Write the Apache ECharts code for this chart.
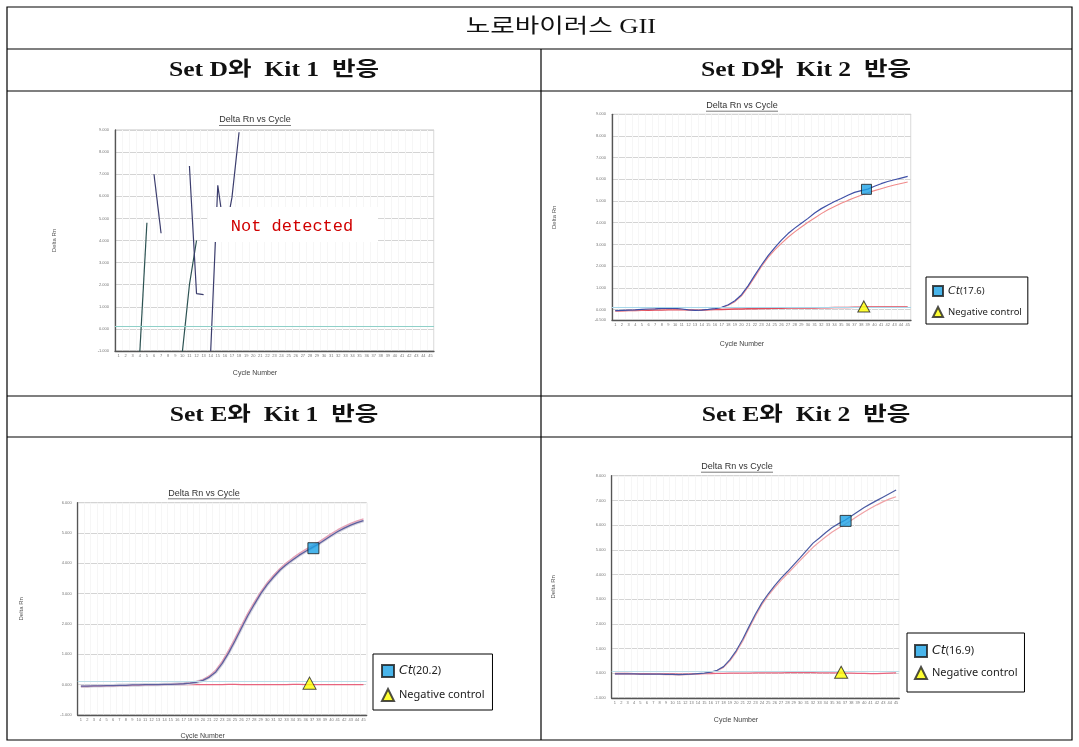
<!DOCTYPE html>
<html><head><meta charset="utf-8">
<script src="https://cdn.jsdelivr.net/npm/echarts@6/dist/echarts.min.js"></script>
<style>html,body{margin:0;padding:0;background:#fff}#c{width:1079px;height:747px}</style>
</head><body><div id="c"></div>
<script>
// ---------- data ----------
const cycles = ['1','2','3','4','5','6','7','8','9','10','11','12','13','14','15','16','17','18','19','20','21','22','23','24','25','26','27','28','29','30','31','32','33','34','35','36','37','38','39','40','41','42','43','44','45'];

const tableTitle = '노로바이러스 GII';
const panelHeaders = ['Set D와  Kit 1  반응', 'Set D와  Kit 2  반응', 'Set E와  Kit 1  반응', 'Set E와  Kit 2  반응'];
const plotTitle = 'Delta Rn vs Cycle';
const xName = 'Cycle Number';
const yName = 'Delta Rn';
const notDetected = 'Not detected';

// Panel 1 (Set D / Kit 1): broken noise segments [cycle, Delta Rn]
const p1SegA = [['4', -1.05], ['5', 4.8]];
const p1SegB = [['6', 7.0], ['7', 4.33]];
const p1SegC = [['10', -1.05], ['11', 2.0], ['12', 4.0]];
const p1SegD = [['11', 7.37], ['12', 1.6], ['13', 1.55]];
const p1SegE = [['14', -1.0], ['15', 6.5], ['16', 4.2], ['17', 5.95], ['18', 8.9]];
const p1Threshold = 0.1;

// Panel 2 (Set D / Kit 2)
const p2Blue = [-0.05,-0.04,-0.03,-0.02,0.0,0.02,0.03,0.05,0.06,0.05,0.02,-0.02,-0.04,-0.03,0.0,0.04,0.1,0.22,0.4,0.68,1.1,1.58,2.05,2.48,2.85,3.2,3.5,3.75,3.98,4.2,4.45,4.65,4.82,4.98,5.12,5.27,5.4,5.48,5.55,5.68,5.8,5.9,5.98,6.06,6.14];
const p2Pink = [-0.07,-0.06,-0.05,-0.04,-0.02,0.0,0.02,0.03,0.04,0.03,0.01,-0.03,-0.05,-0.04,-0.01,0.03,0.08,0.19,0.36,0.63,1.04,1.5,1.98,2.4,2.75,3.05,3.33,3.58,3.8,4.02,4.22,4.42,4.6,4.75,4.9,5.03,5.15,5.27,5.38,5.48,5.57,5.66,5.74,5.81,5.88];
const p2Neg = [-0.06,-0.06,-0.05,-0.05,-0.04,-0.04,-0.03,-0.03,-0.02,-0.02,-0.02,-0.02,-0.03,-0.03,-0.02,-0.01,0.0,0.01,0.02,0.02,0.03,0.03,0.04,0.04,0.05,0.05,0.06,0.06,0.07,0.07,0.07,0.08,0.08,0.09,0.09,0.09,0.1,0.1,0.11,0.11,0.11,0.12,0.12,0.12,0.12];
const p2CtPoint = [38.8, 5.54];
const p2NegPoint = [38.4, 0.14];
const p2CtLabel = 'Ct(17.6)';
const p2YTicks = [-0.5,0,1,2,3,4,5,6,7,8,9];
const p2Threshold = 0.08;

// Panel 3 (Set E / Kit 1)
const p3Blue = [-0.05,-0.05,-0.04,-0.04,-0.03,-0.03,-0.02,-0.02,-0.01,-0.01,0.0,0.0,0.0,0.01,0.01,0.02,0.03,0.05,0.08,0.14,0.25,0.42,0.7,1.05,1.45,1.87,2.28,2.65,3.0,3.3,3.55,3.78,3.96,4.12,4.27,4.4,4.52,4.64,4.78,4.92,5.05,5.16,5.26,5.34,5.41];
const p3Pink = [-0.06,-0.06,-0.05,-0.05,-0.04,-0.04,-0.03,-0.03,-0.02,-0.02,-0.01,-0.01,0.0,0.0,0.01,0.02,0.03,0.06,0.1,0.17,0.29,0.48,0.77,1.13,1.53,1.95,2.36,2.72,3.06,3.36,3.61,3.83,4.02,4.18,4.33,4.46,4.58,4.7,4.84,4.98,5.11,5.22,5.32,5.4,5.47];
const p3Neg = [-0.04,-0.04,-0.04,-0.03,-0.03,-0.03,-0.02,-0.02,-0.02,-0.01,-0.01,-0.01,0.0,0.0,0.0,0.0,0.0,0.0,0.0,0.0,0.0,0.0,0.0,0.01,0.01,0.0,0.0,0.0,0.0,0.0,0.0,0.0,0.0,0.01,0.01,0.0,0.0,0.0,0.0,0.0,0.0,0.0,0.0,0.0,0.0];
const p3CtPoint = [37.2, 4.5];
const p3NegPoint = [36.6, 0.05];
const p3CtLabel = 'Ct(20.2)';
const p3Threshold = 0.12;

// Panel 4 (Set E / Kit 2)
const p4Blue = [-0.02,-0.02,-0.02,-0.02,-0.03,-0.03,-0.03,-0.03,-0.04,-0.04,-0.05,-0.04,-0.03,-0.01,0.01,0.05,0.12,0.27,0.55,0.92,1.38,1.9,2.4,2.85,3.22,3.55,3.85,4.12,4.4,4.68,4.98,5.27,5.48,5.7,5.9,6.06,6.2,6.37,6.54,6.71,6.86,7.0,7.14,7.28,7.42];
const p4Pink = [-0.03,-0.03,-0.03,-0.03,-0.04,-0.04,-0.04,-0.04,-0.05,-0.05,-0.06,-0.05,-0.04,-0.02,0.0,0.03,0.1,0.24,0.5,0.86,1.3,1.82,2.32,2.78,3.15,3.47,3.76,4.03,4.3,4.57,4.84,5.1,5.32,5.53,5.72,5.88,6.03,6.2,6.37,6.53,6.68,6.82,6.95,7.06,7.15];
const p4Neg = [0.0,0.0,0.0,-0.01,-0.01,-0.01,-0.02,-0.02,-0.02,-0.02,-0.03,-0.03,-0.02,-0.02,-0.01,-0.01,0.0,0.0,0.01,0.01,0.01,0.01,0.02,0.02,0.02,0.02,0.02,0.03,0.03,0.03,0.03,0.03,0.02,0.02,0.02,0.02,0.01,0.01,0.0,0.0,-0.01,-0.01,0.0,0.01,0.02];
const p4CtPoint = [37.1, 6.17];
const p4NegPoint = [36.4, 0.04];
const p4CtLabel = 'Ct(16.9)';
const p4Threshold = 0.1;

const negLabel = 'Negative control';

// ---------- layout ----------
const grids = [
  {left:115, top:130, width:319, height:221},
  {left:612, top:114.3, width:299, height:206},
  {left:77.7, top:502.7, width:289, height:212.3},
  {left:611.7, top:475.7, width:287.6, height:222.3}
];
const yRanges = [[-1,9],[-0.5,9],[-1,6],[-1,8]];
const nameGapsY = [58, 55, 53, 55];
const nameGapsX = [19, 20, 18, 19];

const labelFont = 'Liberation Sans, Arial, sans-serif';

const xAxes = [], yAxes = [];
grids.forEach((g, i) => {
  xAxes.push({
    type:'category', gridIndex:i, data:cycles, boundaryGap:true,
    name:xName, nameLocation:'middle', nameGap:nameGapsX[i],
    nameTextStyle:{fontSize:7, color:'#444', fontFamily:labelFont, padding:[0,39,0,0]},
    axisLine:{show:true, onZero:false, lineStyle:{color:'#555', width:1.3}},
    axisTick:{show:false},
    axisLabel:{interval:0, fontSize:4, color:'#777', margin:3, fontFamily:labelFont},
    splitLine:{show:true, interval:0, lineStyle:{color:'#f6f6f6', width:1}}
  });
  xAxes.push({type:'value', gridIndex:i, min:0.5, max:45.5, show:false});
  const y = {
    type:'value', gridIndex:i, min:yRanges[i][0], max:yRanges[i][1],
    name:yName, nameLocation:'middle', nameGap:nameGapsY[i], nameRotate:90,
    nameTextStyle:{fontSize:6, color:'#555', fontFamily:labelFont},
    axisLine:{show:true, lineStyle:{color:'#555', width:1.3}},
    axisTick:{show:false},
    axisLabel:{fontSize:4, color:'#777', margin:6, fontFamily:labelFont, formatter:v => v.toFixed(3)},
    splitLine:{show:true, lineStyle:{color:'#d4d4d4', width:1}}
  };
  if (i === 1) {
    y.axisLabel.customValues = p2YTicks;
    y.axisTick = {show:false, customValues:p2YTicks};
  } else {
    y.interval = 1;
  }
  yAxes.push(y);
});

function line(gi, data, color, width, extra) {
  return Object.assign({
    type:'line', xAxisIndex:gi*2, yAxisIndex:gi, data:data, symbol:'none', showSymbol:false,
    silent:true, clip:true, lineStyle:{color:color, width:width}, z:3
  }, extra || {});
}
function thresh(gi, v, color) {
  return {type:'line', xAxisIndex:gi*2, yAxisIndex:gi, data:[], silent:true,
    markLine:{silent:true, symbol:'none', label:{show:false}, lineStyle:{color:color, width:1, type:'solid'}, data:[{yAxis:v}]}};
}
function ctMark(gi, name, pt, size) {
  return {type:'scatter', name:name, xAxisIndex:gi*2+1, yAxisIndex:gi, data:[pt], symbol:'rect', symbolSize:size,
    itemStyle:{color:'#1ba2e6', borderColor:'#1b1b1b', borderWidth:1}, silent:true, z:10};
}
function negMark(gi, pt, size) {
  return {type:'scatter', name:negLabel, xAxisIndex:gi*2+1, yAxisIndex:gi, data:[pt], symbol:'triangle', symbolSize:size,
    itemStyle:{color:'#ffff00', borderColor:'#222', borderWidth:1}, silent:true, z:10};
}

const teal = '#2c5252', navy = '#3b3d6d';
const series = [
  thresh(0, p1Threshold, '#8fd0c8'),
  line(0, p1SegA, teal, 1.2), line(0, p1SegB, navy, 1.2), line(0, p1SegC, teal, 1.2),
  line(0, p1SegD, navy, 1.2), line(0, p1SegE, navy, 1.2),

  thresh(1, p2Threshold, '#a8d8ea'),
  line(1, p2Neg, '#e04a5a', 1.4),
  line(1, p2Pink, '#f08a8a', 1.1),
  line(1, p2Blue, '#3e4fa6', 1.2),
  ctMark(1, p2CtLabel, p2CtPoint, 10),
  negMark(1, p2NegPoint, [12,11]),

  thresh(2, p3Threshold, '#bcdde8'),
  line(2, p3Neg, '#e8647e', 1.4),
  line(2, p3Blue, '#d4d4de', 3.4),
  line(2, p3Pink, '#e6a2b6', 1.3),
  line(2, p3Blue, '#5e5e9e', 1.3),
  ctMark(2, p3CtLabel, p3CtPoint, 11),
  negMark(2, p3NegPoint, [13,12]),

  thresh(3, p4Threshold, '#bcdde8'),
  line(3, p4Neg, '#e8647e', 1.3),
  line(3, p4Pink, '#f0a2a6', 1.2),
  line(3, p4Blue, '#4a5aa2', 1.2),
  ctMark(3, p4CtLabel, p4CtPoint, 11),
  negMark(3, p4NegPoint, [13,12])
];

function legendCfg(left, top, ctName, fs, pad, gap, icon) {
  return {
    left:left, top:top, orient:'vertical', data:[ctName, negLabel], selectedMode:false,
    backgroundColor:'#fff', borderColor:'#000', borderWidth:1, borderRadius:0,
    padding:pad, itemGap:gap, itemWidth:icon, itemHeight:icon,
    formatter: n => n.indexOf('Ct') === 0 ? '{i|Ct}' + n.slice(2) : n,
    textStyle:{fontSize:fs, color:'#222', fontFamily:'Noto Sans, DejaVu Sans, sans-serif',
      rich:{i:{fontStyle:'italic', fontSize:fs+1.5, color:'#222', fontFamily:'DejaVu Sans, sans-serif'}}}
  };
}

const serif = 'Liberation Serif, Noto Sans CJK KR, serif';
const L = 7, R = 1072, T = 7, B = 740, MID = 541;
const hLines = [49, 91, 396, 437];
const graphic = [];
graphic.push({type:'rect', shape:{x:L, y:T, width:R-L, height:B-T}, style:{fill:'none', stroke:'#000', lineWidth:1.2}, z:60});
hLines.forEach(y => graphic.push({type:'line', shape:{x1:L, y1:y, x2:R, y2:y}, style:{stroke:'#000', lineWidth:1.2}, z:60}));
graphic.push({type:'line', shape:{x1:MID, y1:49, x2:MID, y2:B}, style:{stroke:'#000', lineWidth:1.2}, z:60});

graphic.push({type:'text', x:561, y:28, scaleX:1.33, z:60, style:{text:tableTitle, fontSize:20, fontFamily:serif, fontWeight:'normal', fill:'#111', align:'center', verticalAlign:'middle'}});
const hdrPos = [[274,71],[806,71],[274,416],[806,416]];
panelHeaders.forEach((t, i) => graphic.push({type:'text', x:hdrPos[i][0], y:hdrPos[i][1], scaleX:1.28, z:60,
  style:{text:t, fontSize:20, fontFamily:serif, fontWeight:'bold', fill:'#111', align:'center', verticalAlign:'middle'}}));

const titlePos = [[255,120],[742,105.7],[204,493.3],[737,466.7]];
titlePos.forEach(p => {
  graphic.push({type:'text', x:p[0], y:p[1], z:20, style:{text:plotTitle, fontSize:9, fontFamily:labelFont, fill:'#333', align:'center', verticalAlign:'middle'}});
  graphic.push({type:'line', shape:{x1:p[0]-36, y1:p[1]+5.5, x2:p[0]+36, y2:p[1]+5.5}, style:{stroke:'#555', lineWidth:0.8}, z:20});
});

graphic.push({type:'rect', shape:{x:208, y:207, width:170, height:35}, style:{fill:'#fff'}, z:50});
graphic.push({type:'text', x:292, y:226, z:51, style:{text:notDetected, fontSize:17, fontFamily:'Liberation Mono, DejaVu Sans Mono, monospace', fill:'#d00000', align:'center', verticalAlign:'middle'}});

const option = {
  animation:false,
  backgroundColor:'#fff',
  grid: grids.map(g => Object.assign({show:true, borderColor:'#c4c4c4', borderWidth:1, backgroundColor:'#fff', containLabel:false, outerBoundsMode:'none'}, g)),
  xAxis:xAxes,
  yAxis:yAxes,
  legend:[
    legendCfg(926, 277, p2CtLabel, 9.5, [8,6,6,6], 9, 10),
    legendCfg(373, 654, p3CtLabel, 11, [10,8,8,8], 10, 12),
    legendCfg(907, 633, p4CtLabel, 11, [11,7,12,7], 8, 12)
  ],
  series:series,
  graphic:graphic
};
const chart = echarts.init(document.getElementById('c'));
chart.setOption(option);
</script>
</body></html>
